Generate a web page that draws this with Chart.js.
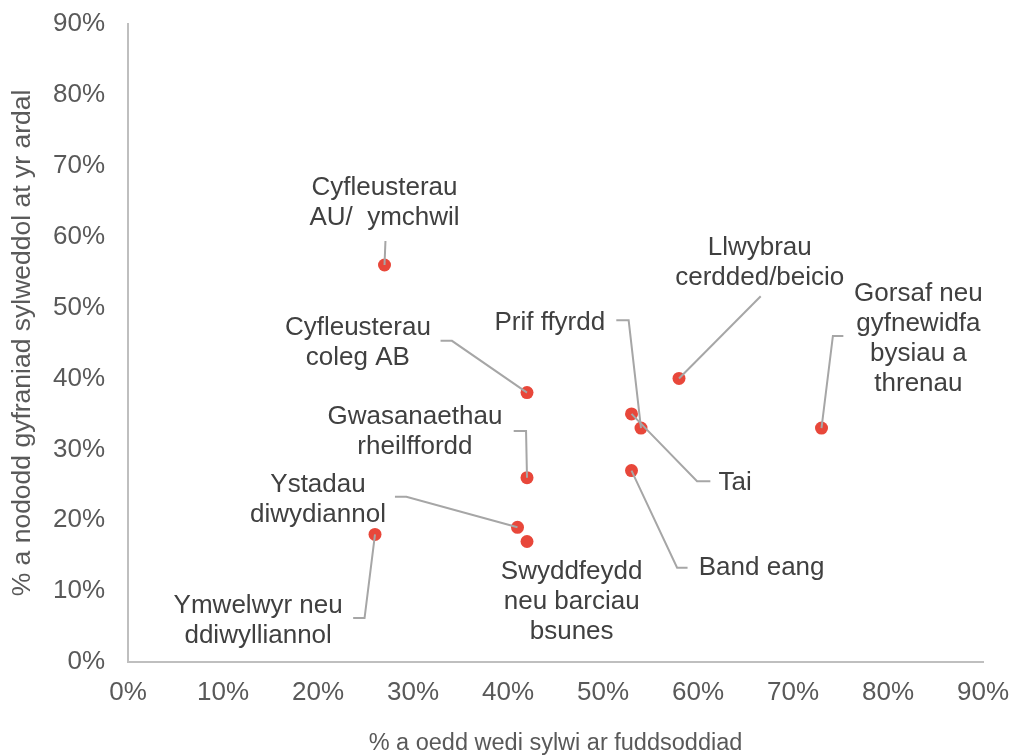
<!DOCTYPE html>
<html>
<head>
<meta charset="utf-8">
<script src="https://cdn.jsdelivr.net/npm/chart.js@4.4.0/dist/chart.umd.min.js"></script>
<style>
  html, body { margin: 0; padding: 0; background: #fff; }
</style>
</head>
<body>
<canvas id="myChart" width="1011" height="755"></canvas>
<script>
// categories (one label per point, split in lines as shown)
const labelLines = [
  ['Cyfleusterau', 'AU/  ymchwil'],
  ['Cyfleusterau', 'coleg AB'],
  ['Gwasanaethau', 'rheilffordd'],
  ['Ystadau', 'diwydiannol'],
  ['Swyddfeydd', 'neu barciau', 'bsunes'],
  ['Ymwelwyr neu', 'ddiwylliannol'],
  ['Prif ffyrdd'],
  ['Tai'],
  ['Band eang'],
  ['Llwybrau', 'cerdded/beicio'],
  ['Gorsaf neu', 'gyfnewidfa', 'bysiau a', 'threnau']
];
// % a oedd wedi sylwi ar fuddsoddiad
const xValues = [27, 42, 42, 41, 42, 26, 54, 53, 53, 58, 73];
// % a nododd gyfraniad sylweddol at yr ardal
const yValues = [56, 38, 26, 19, 17, 18, 33, 35, 27, 40, 33];
const tickValues = [0, 10, 20, 30, 40, 50, 60, 70, 80, 90];

// where each label sits (data units: centre x, first line y) and its leader line
const labelLayout = [
  { x: 27.0, y: 66.9, leader: [[27.1, 59.4]] },
  { x: 24.2, y: 47.1, leader: [[32.9, 45.3], [34.1, 45.3]] },
  { x: 30.2, y: 34.6, leader: [[40.6, 32.6], [41.9, 32.6]] },
  { x: 20.0, y: 25.0, leader: [[28.1, 23.3], [29.3, 23.3]] },
  { x: 46.7, y: 12.7, leader: [] },
  { x: 13.7, y: 7.9,  leader: [[23.7, 6.2], [24.9, 6.2]] },
  { x: 44.4, y: 47.8, leader: [[51.4, 48.2], [52.7, 48.2]] },
  { x: 63.9, y: 25.3, leader: [[61.3, 25.5], [59.9, 25.5]] },
  { x: 66.7, y: 13.3, leader: [[58.9, 13.3], [57.8, 13.3]] },
  { x: 66.5, y: 58.4, leader: [[66.6, 51.6]] },
  { x: 83.2, y: 51.9, leader: [[75.3, 46.0], [74.2, 46.0]] }
];

const FONT = "'Liberation Sans', Arial, sans-serif";

const labelPlugin = {
  id: 'pointLabels',
  afterDatasetsDraw(chart) {
    const { ctx, scales: { x, y } } = chart;
    ctx.save();
    labelLayout.forEach((lay, i) => {
      if (lay.leader.length) {
        ctx.beginPath();
        ctx.strokeStyle = '#A6A6A6';
        ctx.lineWidth = 2;
        lay.leader.forEach(([lx, ly], k) => {
          const px = x.getPixelForValue(lx), py = y.getPixelForValue(ly);
          if (k) ctx.lineTo(px, py); else ctx.moveTo(px, py);
        });
        ctx.lineTo(x.getPixelForValue(xValues[i]), y.getPixelForValue(yValues[i]));
        ctx.stroke();
      }
      ctx.fillStyle = '#404040';
      ctx.font = '26px ' + FONT;
      ctx.textAlign = 'center';
      ctx.textBaseline = 'middle';
      const cx = x.getPixelForValue(lay.x);
      const cy = y.getPixelForValue(lay.y);
      labelLines[i].forEach((t, k) => ctx.fillText(t, cx, cy + k * 30));
    });
    ctx.restore();
  }
};

const points = xValues.map((v, i) => ({ x: v, y: yValues[i] }));

const tickOpts = {
  color: '#595959',
  font: { family: FONT, size: 26 },
  callback: v => v + '%'
};

new Chart(document.getElementById('myChart'), {
  type: 'scatter',
  data: {
    datasets: [{
      data: points,
      backgroundColor: '#E8473A',
      borderWidth: 0,
      pointRadius: 6.5,
      pointHoverRadius: 6.5
    }]
  },
  options: {
    responsive: false,
    animation: false,
    layout: { padding: { left: 0, top: 24, right: 28, bottom: 0 } },
    plugins: { legend: { display: false }, tooltip: { enabled: false } },
    scales: {
      x: {
        min: 0, max: 90,
        afterBuildTicks: s => { s.ticks = tickValues.map(v => ({ value: v })); },
        afterFit: s => { s.height = 93; s.paddingLeft = 0; s.paddingRight = 0; },
        grid: { display: false, drawTicks: false },
        border: { display: true, color: '#BFBFBF', width: 2 },
        ticks: Object.assign({ padding: 15, maxRotation: 0 }, tickOpts),
        title: {
          display: true,
          text: '% a oedd wedi sylwi ar fuddsoddiad',
          color: '#595959',
          font: { family: FONT, size: 23.5, lineHeight: 1 },
          padding: { top: 0, bottom: 0 }
        }
      },
      y: {
        min: 0, max: 90,
        afterBuildTicks: s => { s.ticks = tickValues.map(v => ({ value: v })); },
        afterFit: s => { s.width = 128; s.paddingTop = 0; s.paddingBottom = 0; },
        grid: { display: false, drawTicks: false },
        border: { display: true, color: '#BFBFBF', width: 2 },
        ticks: Object.assign({ padding: 23 }, tickOpts),
        title: {
          display: true,
          text: '% a nododd gyfraniad sylweddol at yr ardal',
          color: '#595959',
          font: { family: FONT, size: 26.5, lineHeight: 1 },
          padding: { top: 9, bottom: 0 }
        }
      }
    }
  },
  plugins: [labelPlugin]
});
</script>
</body>
</html>
